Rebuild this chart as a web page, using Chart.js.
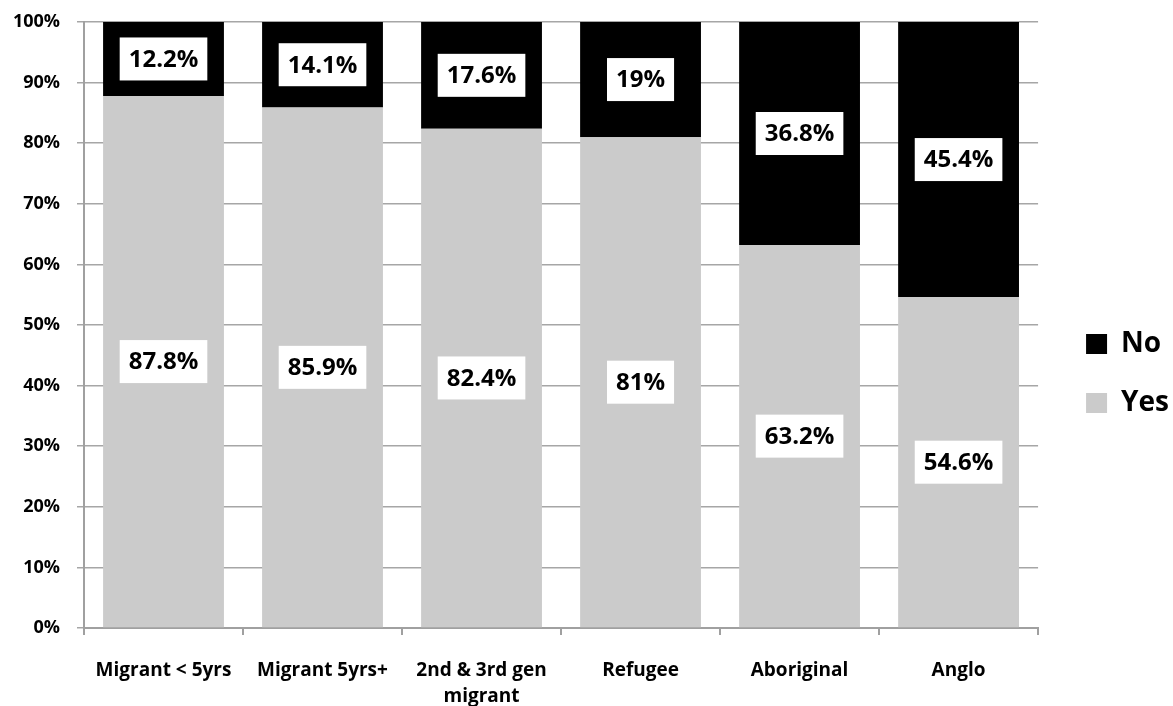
<!DOCTYPE html>
<html>
<head>
<meta charset="utf-8">
<script src="https://cdn.jsdelivr.net/npm/chart.js@4/dist/chart.umd.min.js"></script>
<style>
  body { margin: 0; background: #fff; }
</style>
</head>
<body>
<canvas id="grafico" width="1173" height="706"></canvas>
<script>
// datos
const categorias = ["Migrant < 5yrs", "Migrant 5yrs+", ["2nd & 3rd gen", "migrant"], "Refugee", "Aboriginal", "Anglo"];
const valoresYes = [87.8, 85.9, 82.4, 81, 63.2, 54.6];
const valoresNo = [12.2, 14.1, 17.6, 19, 36.8, 45.4];

const fuente = "'Open Sans', 'Noto Sans', sans-serif";

// etiquetas con caja blanca en el centro de cada barra
const etiquetas = {
  id: "etiquetas",
  afterDatasetsDraw(chart) {
    const ctx = chart.ctx;
    ctx.save();
    ctx.font = "bold 24px " + fuente;
    ctx.textAlign = "center";
    ctx.textBaseline = "middle";
    chart.data.datasets.forEach(function (ds, i) {
      const meta = chart.getDatasetMeta(i);
      meta.data.forEach(function (barra, j) {
        const texto = ds.data[j] + "%";
        const ancho = ctx.measureText(texto).width + 18;
        const alto = 43;
        const x = barra.x;
        const y = (barra.y + barra.base) / 2;
        ctx.fillStyle = "#ffffff";
        ctx.fillRect(x - ancho / 2, y - alto / 2, ancho, alto);
        ctx.fillStyle = "#000000";
        ctx.fillText(texto, x, y + 1);
      });
    });
    ctx.restore();
  }
};

// mas espacio entre el grafico y la leyenda
const espacioLeyenda = {
  id: "espacioLeyenda",
  beforeInit(chart) {
    const fitOriginal = chart.legend.fit;
    chart.legend.fit = function () {
      fitOriginal.call(this);
      this.width += 11;
    };
  },
  afterLayout(chart) {
    chart.legend.left += 17;
    chart.legend.top += 41;
  }
};

new Chart(document.getElementById("grafico"), {
  type: "bar",
  data: {
    labels: categorias,
    datasets: [
      { label: "Yes", data: valoresYes, backgroundColor: "#cbcbcb" },
      { label: "No", data: valoresNo, backgroundColor: "#000000" }
    ]
  },
  options: {
    responsive: false,
    animation: false,
    layout: { padding: { top: 0, bottom: 0, left: 13, right: 0 } },
    datasets: { bar: { categoryPercentage: 1, barPercentage: 0.76 } },
    plugins: {
      tooltip: { enabled: false },
      legend: {
        position: "right",
        reverse: true,
        labels: {
          color: "#000",
          boxWidth: 21,
          boxHeight: 20,
          padding: 31,
          font: { family: fuente, size: 28, weight: "bold" }
        }
      }
    },
    scales: {
      x: {
        stacked: true,
        afterFit: function (escala) { escala.height = 78; },
        grid: { offset: true, drawOnChartArea: false, drawTicks: true, tickLength: 7, color: "#a0a0a0", lineWidth: 2 },
        border: { color: "#a0a0a0", width: 2 },
        ticks: { color: "#000", padding: 23, font: { family: fuente, size: 19, weight: "bold", lineHeight: 1.37 } }
      },
      y: {
        stacked: true,
        min: 0,
        max: 100,
        afterFit: function (escala) {
          escala.width = 71;
          escala.paddingTop = 22;
        },
        grid: { color: "#a6a6a6", lineWidth: 1.5, tickLength: 7 },
        border: { color: "#a0a0a0", width: 2 },
        ticks: {
          stepSize: 10,
          color: "#000",
          padding: 17,
          font: { family: fuente, size: 18, weight: "bold" },
          callback: function (v) { return v + "%"; }
        }
      }
    }
  },
  plugins: [etiquetas, espacioLeyenda]
});
</script>
</body>
</html>
